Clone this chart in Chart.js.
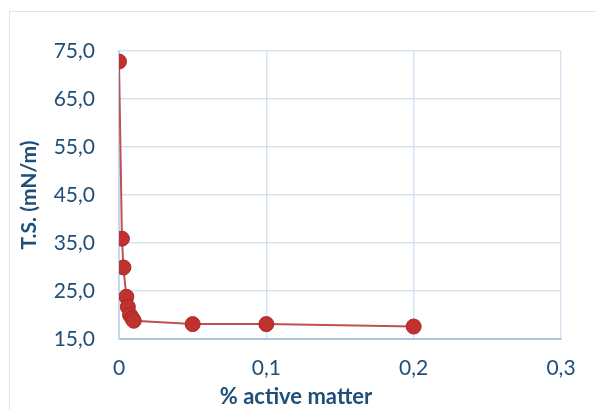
<!DOCTYPE html>
<html>
<head>
<meta charset="utf-8">
<script src="https://cdn.jsdelivr.net/npm/chart.js@4/dist/chart.umd.min.js"></script>
<style>
  html, body { margin: 0; padding: 0; background: #fff; overflow: hidden; }
  #frame { position: absolute; left: 9px; top: 11px; width: 620px; height: 430px; border: 1.5px solid #D9E5F4; }
  #wrap { position: absolute; left: 0; top: 0; width: 596px; height: 410px; }
</style>
</head>
<body>
<div id="frame"></div>
<div id="wrap"><canvas id="chart" width="596" height="410"></canvas></div>
<script>
// % active matter vs surface tension
const concentration = [0, 0.002, 0.003, 0.005, 0.006, 0.0075, 0.009, 0.01, 0.05, 0.1, 0.2];
const tension = [72.8, 35.9, 29.9, 23.8, 21.7, 20.0, 19.3, 18.8, 18.1, 18.1, 17.6];

const xTickLabels = ["0", "0,1", "0,2", "0,3"];
const yTickLabels = ["15,0", "25,0", "35,0", "45,0", "55,0", "65,0", "75,0"];

const textColor = "#1F4E79";
const gridColor = "#D6E3F3";

// x axis title, centred a bit left like the original
const xTitle = {
    id: "xTitle",
    afterDraw(chart) {
        const c = chart.ctx;
        c.save();
        c.font = "bold 22px Lato";
        c.fillStyle = textColor;
        c.textAlign = "center";
        c.textBaseline = "middle";
        c.fillText("% active matter", 296, 397);
        c.restore();
    }
};

const ctx = document.getElementById("chart");

const chart = new Chart(ctx, {
    type: "scatter",
    data: {
        datasets: [
            {
                label: "T.S.",
                data: concentration.map((c, i) => ({ x: c, y: tension[i] })),
                showLine: true,
                borderColor: "#C0504D",
                borderWidth: 2,
                backgroundColor: "#C1312F",
                pointBorderColor: "#A82A28",
                pointBorderWidth: 1,
                pointRadius: 7.5,
                pointHoverRadius: 7.5,
                tension: 0
            }
        ]
    },
    options: {
        responsive: false,
        maintainAspectRatio: false,
        animation: false,
        layout: {
            padding: { top: 51, right: 35, left: 0, bottom: 0 }
        },
        plugins: {
            legend: { display: false },
            tooltip: { enabled: false }
        },
        scales: {
            x: {
                type: "linear",
                min: 0,
                max: 0.3,
                ticks: {
                    stepSize: 0.1,
                    padding: 17,
                    color: textColor,
                    font: { family: "Lato", size: 21 },
                    callback: (v, i) => xTickLabels[i]
                },
                grid: { color: gridColor, lineWidth: 1.5, drawTicks: false },
                border: { color: "#A9C4E6", width: 2 },
                afterFit: (scale) => { scale.height = 71; }
            },
            y: {
                min: 15,
                max: 75,
                ticks: {
                    stepSize: 10,
                    padding: 24,
                    color: textColor,
                    font: { family: "Lato", size: 21 },
                    callback: (v, i) => yTickLabels[i]
                },
                grid: { color: gridColor, lineWidth: 1.5, drawTicks: false },
                border: { color: "#C5D8EF", width: 2 },
                title: {
                    display: true,
                    text: "T.S. (mN/m)",
                    color: textColor,
                    font: { family: "Lato", size: 21, weight: "bold" },
                    padding: { top: 17, bottom: 0 }
                },
                afterFit: (scale) => { scale.width = 119; }
            }
        }
    },
    plugins: [xTitle]
});
</script>
</body>
</html>
